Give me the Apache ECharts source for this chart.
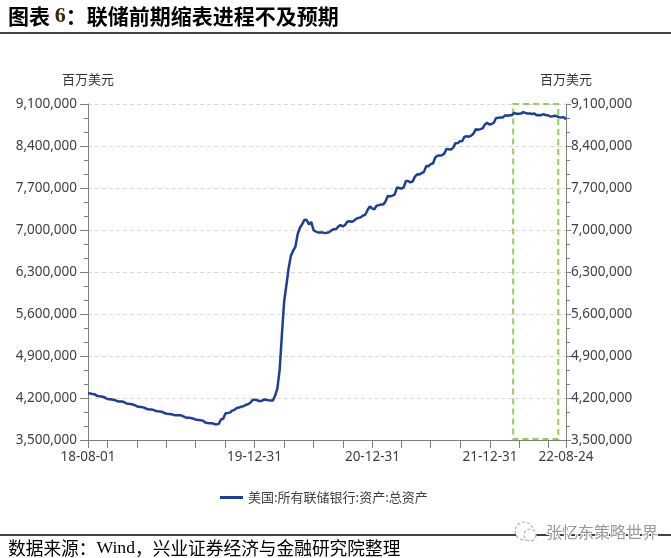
<!DOCTYPE html>
<html>
<head>
<meta charset="utf-8">
<script src="https://cdn.jsdelivr.net/npm/echarts@6/dist/echarts.min.js"></script>
<style>
html,body{margin:0;padding:0;background:#fff;}
#c{width:671px;height:558px;}
</style>
</head>
<body>
<div id="c"></div>
<script>
// ---- Data (百万美元), weekly (Wednesdays) from 2018-08-01 to 2022-08-24 ----
var startDate = '2018-08-01';
var endDate = '2022-08-24';
var seriesName = '美国:所有联储银行:资产:总资产';
var values2018 = [4280000, 4276000, 4268000, 4261000, 4236000, 4229000, 4225000, 4218000, 4194000, 4180000, 4178000, 4172000, 4166000, 4146000, 4141000, 4141000, 4134000, 4108000, 4103000, 4101000, 4091000, 4076000];
var values2019 = [4058000, 4050000, 4048000, 4039000, 4018000, 4010000, 4008000, 4002000, 3985000, 3978000, 3975000, 3968000, 3945000, 3936000, 3935000, 3931000, 3917000, 3912000, 3913000, 3914000, 3898000, 3880000, 3872000, 3870000, 3863000, 3853000, 3837000, 3834000, 3828000, 3823000, 3791000, 3782000, 3781000, 3780000, 3766000, 3760000, 3769000, 3842000, 3858000, 3944000, 3948000, 3960000, 3990000, 4003000, 4035000, 4040000, 4058000, 4063000, 4087000, 4096000, 4121000, 4166000];
var values2020 = [4173000, 4162000, 4148000, 4151000, 4176000, 4171000, 4162000, 4159000, 4159000, 4241000, 4362000, 4668000, 5254000, 5813000, 6083000, 6368000, 6573000, 6655000, 6723000, 6934000, 7037000, 7097000, 7169000, 7166000, 7092000, 7134000, 7001000, 6973000, 6960000, 6959000, 6960000, 6948000, 6953000, 6964000, 6995000, 7013000, 7016000, 7056000, 7082000, 7057000, 7084000, 7137000, 7146000, 7137000, 7156000, 7188000, 7202000, 7211000, 7240000, 7258000, 7334000, 7393000, 7362000];
var values2021 = [7343000, 7404000, 7414000, 7427000, 7424000, 7480000, 7569000, 7559000, 7574000, 7589000, 7707000, 7699000, 7691000, 7711000, 7817000, 7818000, 7792000, 7810000, 7891000, 7928000, 7925000, 7948000, 7969000, 8065000, 8063000, 8098000, 8109000, 8208000, 8236000, 8242000, 8247000, 8273000, 8352000, 8344000, 8343000, 8373000, 8447000, 8448000, 8478000, 8484000, 8556000, 8561000, 8556000, 8573000, 8608000, 8681000, 8672000, 8681000, 8695000, 8758000, 8788000, 8757000];
var values2022 = [8766000, 8788000, 8868000, 8869000, 8874000, 8876000, 8912000, 8904000, 8912000, 8914000, 8953000, 8937000, 8937000, 8940000, 8965000, 8951000, 8940000, 8941000, 8934000, 8940000, 8914000, 8915000, 8913000, 8930000, 8913000, 8913000, 8891000, 8896000, 8903000, 8895000, 8879000, 8877000, 8881000, 8845000];

// Tick labels
var yMin = 3500000, yMax = 9100000, yInterval = 700000;
var xLabelDates = ['2018-08-01', '2019-12-31', '2020-12-31', '2021-12-31', '2022-08-24'];
var xTickDates = ['2018-08-01', '2018-09-30', '2018-12-31', '2019-03-31', '2019-06-30', '2019-09-30', '2019-12-31', '2020-03-31', '2020-06-30', '2020-09-30', '2020-12-31', '2021-03-31', '2021-06-30', '2021-09-30', '2021-12-31', '2022-03-31', '2022-06-30', '2022-08-24'];
// Highlighted period (dashed box)
var boxStart = '2022-03-13', boxEnd = '2022-07-31';

var allValues = values2018.concat(values2019, values2020, values2021, values2022);
function pad(n){return (n<10?'0':'')+n;}
function fmtDate(d){return d.getFullYear()+'-'+pad(d.getMonth()+1)+'-'+pad(d.getDate());}
function parseD(s){var p=s.split('-');return new Date(+p[0], +p[1]-1, +p[2]);}
var dates = [];
var d0 = parseD(startDate);
for (var i = 0; i < allValues.length; i++) {
  var d = new Date(d0.getFullYear(), d0.getMonth(), d0.getDate() + 7*i);
  dates.push(fmtDate(d));
}
var lineData = dates.map(function(dt, i){ return [parseD(dt).getTime(), allValues[i]]; });
var tsLabels = xLabelDates.map(function(s){return parseD(s).getTime();});
var tsTicks = xTickDates.map(function(s){return parseD(s).getTime();});

var axisColor = '#7f7f7f';
var labelColor = '#404040';
var fontFam = '"Noto Sans", "Noto Sans CJK SC", sans-serif';
function thousands(v){ return String(v).replace(/\B(?=(\d{3})+(?!\d))/g, ','); }

var chart = echarts.init(document.getElementById('c'), null, {renderer:'canvas'});
var yCommon = {
  type: 'value', min: yMin, max: yMax, interval: yInterval,
  name: '百万美元', nameLocation: 'end', nameGap: 18,
  nameTextStyle: {color: '#333', fontSize: 13, fontFamily: '"Noto Sans CJK SC", sans-serif', align: 'center'},
  axisLine: {show: true, lineStyle: {color: axisColor, width: 1}},
  axisTick: {show: true, inside: false, length: 7, lineStyle: {color: axisColor}},
  minorTick: {show: true, splitNumber: 3, length: 4, lineStyle: {color: axisColor}},
  axisLabel: {color: labelColor, fontSize: 13.5, fontFamily: fontFam, formatter: thousands}
};
var option = {
  animation: false,
  backgroundColor: '#fff',
  grid: {left: 88, right: 105, top: 104, bottom: 118},
  legend: {
    show: true, left: 215, top: 486,
    itemWidth: 23, itemHeight: 3, icon: 'rect',
    textStyle: {color: labelColor, fontSize: 13, fontFamily: '"Noto Sans CJK SC", sans-serif'},
    data: [seriesName]
  },
  xAxis: {
    type: 'value', min: parseD(startDate).getTime(), max: parseD(endDate).getTime(),
    axisLine: {show: true, lineStyle: {color: axisColor}},
    axisTick: {show: true, length: 8, customValues: tsTicks, lineStyle: {color: axisColor}},
    axisLabel: {
      color: labelColor, fontSize: 13.5, fontFamily: fontFam, margin: 10,
      customValues: tsLabels, hideOverlap: false, showMinLabel: true, showMaxLabel: true,
      formatter: function(v){ var d = new Date(v); return String(d.getFullYear()).slice(2)+'-'+pad(d.getMonth()+1)+'-'+pad(d.getDate()); }
    },
    splitLine: {show: false}
  },
  yAxis: [
    Object.assign({}, yCommon, {
      position: 'left',
      axisLabel: Object.assign({}, yCommon.axisLabel, {margin: 11}),
      axisTick: Object.assign({}, yCommon.axisTick, {length: 8}),
      splitLine: {show: true, lineStyle: {color: '#d9d9d9', type: [4, 3], width: 1}}
    }),
    Object.assign({}, yCommon, {
      position: 'right',
      axisLabel: Object.assign({}, yCommon.axisLabel, {margin: 5}),
      axisTick: Object.assign({}, yCommon.axisTick, {length: 5}),
      splitLine: {show: false}
    })
  ],
  series: [{
    name: seriesName, type: 'line', yAxisIndex: 0,
    data: lineData, showSymbol: false, symbol: 'none',
    lineStyle: {color: '#1f3f93', width: 2.5},
    itemStyle: {color: '#1f3f93'},
    markArea: {
      silent: true,
      itemStyle: {color: 'rgba(0,0,0,0)', borderColor: '#92d050', borderWidth: 2, borderType: [6, 4]},
      data: [[{xAxis: parseD(boxStart).getTime(), yAxis: 9100000}, {xAxis: parseD(boxEnd).getTime(), yAxis: 3515000}]]
    }
  }],
  graphic: [
    {type: 'text', left: 8, top: 5, style: {
      text: '{a|图表 }{b|6}{a|：联储前期缩表进程不及预期}',
      rich: {
        a: {fontSize: 21, fontWeight: 'bold', fill: '#000', fontFamily: '"Noto Sans CJK SC", sans-serif'},
        b: {fontSize: 22, fontWeight: 'bold', fill: '#3d2a05', fontFamily: '"Liberation Serif", serif'}
      }
    }},
    {type: 'line', shape: {x1: 0, y1: 33, x2: 671, y2: 33}, style: {stroke: '#000', lineWidth: 1.5}},
    {type: 'line', shape: {x1: 0, y1: 535, x2: 671, y2: 535}, style: {stroke: '#000', lineWidth: 1.5}},
    {type: 'text', left: 8, top: 539, style: {
      text: '{a|数据来源：}{b|Wind}{a|，兴业证券经济与金融研究院整理}',
      rich: {
        a: {fontSize: 17.7, fill: '#000', fontFamily: '"Noto Sans CJK SC", sans-serif'},
        b: {fontSize: 17.7, fill: '#000', fontFamily: '"Liberation Serif", serif'}
      }
    }},
    {type: 'circle', shape: {cx: 524, cy: 531, r: 9}, style: {fill: '#fff', stroke: '#b0b0b0', lineWidth: 1.2, lineDash: [3, 2]}},
    {type: 'circle', shape: {cx: 530, cy: 535, r: 6}, style: {fill: '#fff', stroke: '#b0b0b0', lineWidth: 1.2, lineDash: [3, 2]}},
    {type: 'text', left: 545, top: 523, style: {
      text: '张忆东策略世界', fontSize: 16, fill: '#9a9a9a', fontFamily: '"Noto Sans CJK SC", sans-serif',
      stroke: '#fff', lineWidth: 2
    }}
  ]
};
chart.setOption(option);
</script>
</body>
</html>
